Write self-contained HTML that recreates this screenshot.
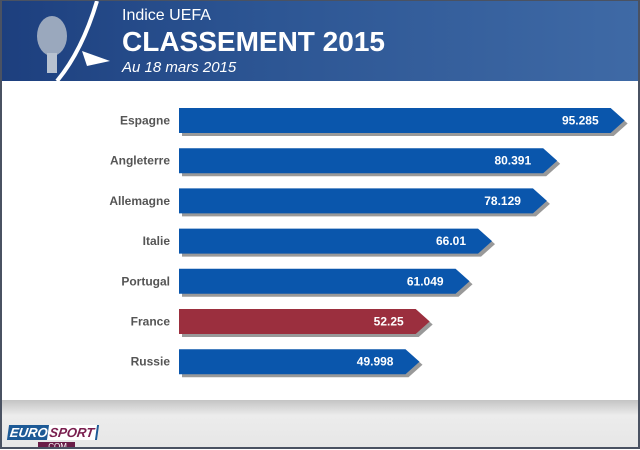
<!DOCTYPE html>
<html><head><meta charset="utf-8"><style>
body{margin:0;width:640px;height:450px;overflow:hidden;font-family:"Liberation Sans",Arial,sans-serif;background:#fff}
#frame{position:absolute;left:0;top:0;width:636px;height:446px;border:2px solid #4a5262;border-top:1px solid #4a5262;background:#fff;overflow:hidden}
#header{position:absolute;left:0;top:0;width:640px;height:80px;background:linear-gradient(90deg,#1d3f7e 0%,#2c5593 40%,#3f6aa6 100%)}
.t{position:absolute;color:#fff;left:120px}
#footer{position:absolute;left:0;top:399px;width:640px;height:51px;background:linear-gradient(#c4c4c4,#ececec 30%,#e6e6e6)}
</style></head><body>
<div id="frame">
<div id="header">
<svg width="110" height="80" style="position:absolute;left:0;top:0">
<ellipse cx="50" cy="35" rx="15" ry="20" fill="#9aa8bd"/><rect x="45" y="52" width="10" height="20" fill="#b8c2d0"/>
<path d="M95 0 Q80 50 55 80" stroke="#fff" stroke-width="4" fill="none"/><path d="M80 50 L108 60 L85 65Z" fill="#fff"/></svg>
<div class="t" style="top:6px;font-size:16px">Indice UEFA</div>
<div class="t" style="top:25px;font-size:28px;font-weight:bold">CLASSEMENT 2015</div>
<div class="t" style="top:58px;font-size:15px;font-style:italic">Au 18 mars 2015</div>
</div>
<svg id="chart" width="640" height="320" style="position:absolute;left:0;top:80px"></svg>
<div id="footer">
<div style="position:absolute;left:6px;top:25px;background:#1d5a96;color:#fff;font-weight:bold;font-style:italic;font-size:13px;padding:0 2px;transform:skewX(-8deg)">EURO<span style="background:#fff;color:#7a1f4f;padding:0 2px">SPORT</span></div>
<div style="position:absolute;left:36px;top:42px;background:#6a1d48;color:#fff;font-size:8px;padding:0 8px">.COM</div>
</div>
</div>
<script>
const categories=["Espagne","Angleterre","Allemagne","Italie","Portugal","France","Russie"];
const values=[95.285,80.391,78.129,66.01,61.049,52.25,49.998];
const labels=["95.285","80.391","78.129","66.01","61.049","52.25","49.998"];
const highlight=["France"];
const svg=document.getElementById('chart');
const NS='http://www.w3.org/2000/svg';
const x0=177,scale=4.53,tip=14;
function xLen(v){return v*scale;}
function yPos(i){return 27+i*40.2;}
const h=25;
categories.forEach((c,i)=>{
 const y=yPos(i),L=xLen(values[i]),col=highlight.includes(c)?'#9b2f3e':'#0a56ac';
 const pts=(dx,dy)=>`${x0+dx},${y+dy} ${x0+L+dx},${y+dy} ${x0+L+tip+dx},${y+h/2+dy} ${x0+L+dx},${y+h+dy} ${x0+dx},${y+h+dy}`;
 const sh=document.createElementNS(NS,'polygon');sh.setAttribute('points',pts(3,3));sh.setAttribute('fill','#999');
 
 svg.appendChild(sh);
 const p=document.createElementNS(NS,'polygon');p.setAttribute('points',pts(0,0));p.setAttribute('fill',col);
 
 svg.appendChild(p);
 const t=document.createElementNS(NS,'text');t.setAttribute('x',168);t.setAttribute('y',y+h/2+4);t.setAttribute('text-anchor','end');
 t.setAttribute('font-size','12');t.setAttribute('font-weight','bold');t.setAttribute('fill','#555');t.textContent=c;
 
 svg.appendChild(t);
 const v=document.createElementNS(NS,'text');v.setAttribute('x',x0+L-12);v.setAttribute('y',y+h/2+4);v.setAttribute('text-anchor','end');
 v.setAttribute('font-size','12');v.setAttribute('font-weight','bold');v.setAttribute('fill','#fff');v.textContent=labels[i];
 
 svg.appendChild(v);
});
</script>
</body></html>
